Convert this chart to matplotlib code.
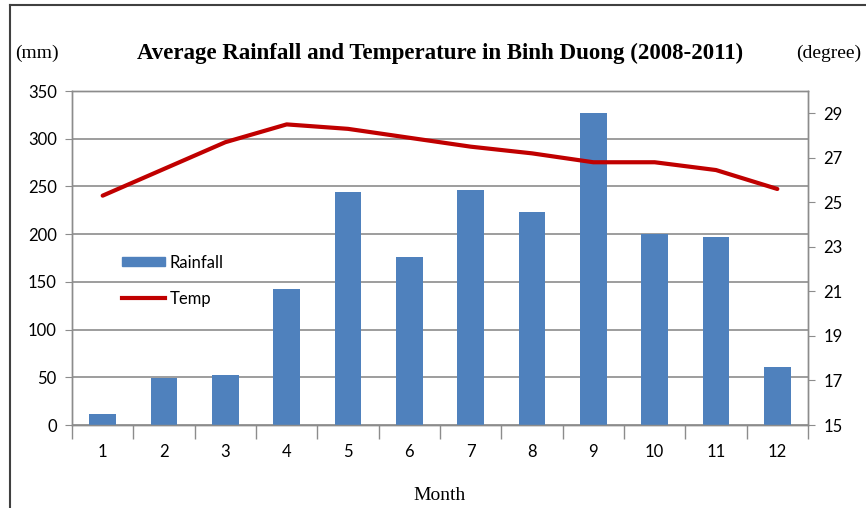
import matplotlib
matplotlib.use('Agg')
import matplotlib.pyplot as plt
import numpy as np
from matplotlib.lines import Line2D

# Daten
months = [1, 2, 3, 4, 5, 6, 7, 8, 9, 10, 11, 12]
rainfall = [12, 49, 52, 142, 244, 176, 246, 223, 327, 200, 197, 61]
temp = [25.3, 26.5, 27.7, 28.5, 28.3, 27.9, 27.5, 27.2, 26.8, 26.8, 26.45, 25.6]
left_ticks = [0, 50, 100, 150, 200, 250, 300, 350]
right_ticks = [15, 17, 19, 21, 23, 25, 27, 29]

BAR_COLOR = '#4f81bd'
LINE_COLOR = '#c00000'
GRID_COLOR = '#8c8c8c'
SANS = ['Lato', 'DejaVu Sans']
SERIF = ['Liberation Serif', 'DejaVu Serif']

fig = plt.figure(figsize=(8.66, 5.08), dpi=100)
ax = fig.add_axes([72 / 866, 1 - 425 / 508, 736 / 866, 334 / 508])
ax2 = ax.twinx()

x = np.arange(len(months))
ax.bar(x, rainfall, width=0.43, color=BAR_COLOR, zorder=3)
ax2.plot(x, temp, color=LINE_COLOR, linewidth=3, solid_capstyle='round', zorder=4)

ax.set_xlim(-0.5, len(months) - 0.5)
ax.set_ylim(0, 350)
ax.set_yticks(left_ticks)
ax2.set_ylim(15, 30)
ax2.set_yticks(right_ticks)

ax.set_xticks(x)
ax.set_xticklabels([str(m) for m in months], family=SANS, fontsize=12)
ax.set_xticks(np.arange(-0.5, len(months)), minor=True)
ax.tick_params(axis='x', which='major', length=0, pad=14)
ax.tick_params(axis='x', which='minor', length=10, color=GRID_COLOR, width=1)
ax.tick_params(axis='y', length=5, color=GRID_COLOR, labelsize=12, pad=6)
ax2.tick_params(axis='y', length=5, color=GRID_COLOR, labelsize=12, pad=6)
for lab in ax.get_yticklabels() + ax2.get_yticklabels():
    lab.set_family(SANS)

ax.yaxis.grid(True, color=GRID_COLOR, linewidth=1.2, zorder=0)
ax.set_axisbelow(True)
for a in (ax, ax2):
    for s in a.spines.values():
        s.set_color(GRID_COLOR)
        s.set_linewidth(1)
    a.patch.set_visible(False)

# Legende
handles = [plt.Rectangle((0, 0), 1, 1, color=BAR_COLOR),
           Line2D([], [], color=LINE_COLOR, linewidth=3)]
ax.legend(handles, ['Rainfall', 'Temp'], loc='upper left', bbox_to_anchor=(0.047, 0.555),
          frameon=False, prop={'family': SANS, 'size': 12}, handlelength=2.6,
          handletextpad=0.3, labelspacing=1.2, handleheight=0.5)

# Texte
fig.text(440 / 866, 1 - 53 / 508, 'Average Rainfall and Temperature in Binh Duong (2008-2011)',
         ha='center', va='center', family=SERIF, fontsize=16.5, fontweight='bold')
fig.text(15 / 866, 1 - 53 / 508, '(mm)', ha='left', va='center', family=SERIF, fontsize=14)
fig.text(861 / 866, 1 - 53 / 508, '(degree)', ha='right', va='center', family=SERIF, fontsize=14)
fig.text(440 / 866, 1 - 496 / 508, 'Month', ha='center', va='center', family=SERIF, fontsize=14)

# Rahmen
fig.add_artist(Line2D([10 / 866, 10 / 866], [0, 1 - 5 / 508], color='#404040', linewidth=1.5,
                      transform=fig.transFigure))
fig.add_artist(Line2D([10 / 866, 1], [1 - 5 / 508, 1 - 5 / 508], color='#404040', linewidth=1.5,
                      transform=fig.transFigure))

fig.savefig('out.png', dpi=100)
